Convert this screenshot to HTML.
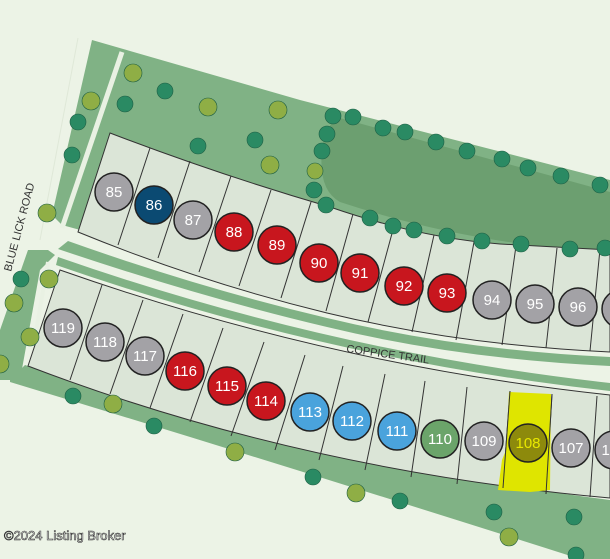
<!DOCTYPE html>
<html><head><meta charset="utf-8"><style>
html,body{margin:0;padding:0;background:#ecf3e6;}
svg{display:block}
text{font-family:"Liberation Sans",sans-serif;}
</style></head><body>
<svg width="610" height="559" viewBox="0 0 610 559" xmlns="http://www.w3.org/2000/svg">
<rect width="610" height="559" fill="#ecf3e6"/>
<path d="M78,38 L40,240" stroke="#dfe8d8" stroke-width="1" fill="none"/>
<!-- top green -->
<path d="M92,40 L300,100 L610,180 L610,330 Q330,300 62,225 L52,215 Z" fill="#80b285"/>
<path d="M122,52 L62,228" stroke="#e9f1e3" stroke-width="5" fill="none"/>
<!-- lake -->
<path d="M340,118 L610,192 L610,252 Q470,245 340,202 Q318,190 322,150 Q326,122 340,118 Z" fill="#6c9f70"/>
<!-- light road area under top green -->
<path d="M60,228 Q330,300 610,335 L610,352 L78,232 Z" fill="#ecf3e6"/>
<!-- top lots -->
<path d="M110,133 Q220,175 330,207 Q420,238 500,244 L610,250 L610,352 Q460,345 327,313 Q200,282 78,232 Z" fill="#dbe5d7" stroke="#333" stroke-width="1"/>
<g stroke="#333" stroke-width="1">
<line x1="150" y1="148" x2="118" y2="245"/><line x1="190" y1="161" x2="158" y2="258"/>
<line x1="231" y1="176" x2="199" y2="272"/><line x1="271" y1="190" x2="239" y2="286"/>
<line x1="311" y1="202" x2="281" y2="298"/><line x1="353" y1="214" x2="326" y2="311"/>
<line x1="394" y1="226" x2="368" y2="322"/><line x1="434" y1="235" x2="412" y2="332"/>
<line x1="474" y1="242" x2="456" y2="340"/><line x1="516" y1="246" x2="502" y2="345"/>
<line x1="557" y1="248" x2="546" y2="348"/><line x1="600" y1="249" x2="590" y2="351"/>
</g>
<!-- middle green strips -->
<path d="M68,241 Q200,288 327,318 Q460,350 610,357 L610,366 Q460,359 327,327 Q200,297 58,249 Z" fill="#80b285"/>
<path d="M58,257 Q330,352 610,383 L610,391 Q330,360 56,265 Z" fill="#80b285"/>
<text x="346" y="352" font-size="11" fill="#333" transform="rotate(8 346 352)">COPPICE TRAIL</text>
<!-- bottom left green strip -->
<path d="M28,250 L48,250 L55,255 L40,270 L20,380 L0,380 L0,330 Z" fill="#80b285"/>
<path d="M48,262 L28,378" stroke="#e9f1e3" stroke-width="4" fill="none"/>
<!-- bottom green band -->
<path d="M10,380 L25,365 Q300,460 610,500 L610,559 L580,559 Q300,470 10,382 Z" fill="#80b285"/>
<!-- bottom lots -->
<path d="M60,270 Q330,365 610,395 L610,498 Q300,470 28,366 Z" fill="#dbe5d7" stroke="#333" stroke-width="1"/>
<g stroke="#333" stroke-width="1">
<line x1="102" y1="285" x2="70" y2="380"/><line x1="143" y1="300" x2="110" y2="394"/>
<line x1="183" y1="314" x2="150" y2="408"/><line x1="223" y1="328" x2="190" y2="422"/>
<line x1="264" y1="342" x2="231" y2="436"/><line x1="305" y1="355" x2="275" y2="450"/>
<line x1="343" y1="366" x2="319" y2="460"/><line x1="385" y1="374" x2="365" y2="470"/>
<line x1="425" y1="381" x2="411" y2="477"/><line x1="467" y1="387" x2="457" y2="484"/>
<line x1="510" y1="391" x2="503" y2="488"/><line x1="552" y1="394" x2="546" y2="494"/>
<line x1="597" y1="396" x2="590" y2="497"/>
</g>
<path d="M509,392 L551,394 L550,490 L530,492 L498,490 L502,460 L506,450 Z" fill="#dfe500"/>
<line x1="510" y1="391" x2="503" y2="488" stroke="#333"/><line x1="552" y1="394" x2="546" y2="494" stroke="#333"/>
<!-- trees -->
<g stroke="#1d5e44" stroke-width="0.6">
<g fill="#2a8a63">
<circle cx="125" cy="104" r="8"/><circle cx="165" cy="91" r="8"/><circle cx="78" cy="122" r="8"/><circle cx="72" cy="155" r="8"/>
<circle cx="198" cy="146" r="8"/><circle cx="255" cy="140" r="8"/>
<circle cx="333" cy="116" r="8"/><circle cx="353" cy="117" r="8"/><circle cx="383" cy="128" r="8"/><circle cx="405" cy="132" r="8"/>
<circle cx="436" cy="142" r="8"/><circle cx="467" cy="151" r="8"/><circle cx="502" cy="159" r="8"/><circle cx="528" cy="168" r="8"/>
<circle cx="561" cy="176" r="8"/><circle cx="600" cy="185" r="8"/>
<circle cx="327" cy="134" r="8"/><circle cx="322" cy="151" r="8"/><circle cx="314" cy="190" r="8"/><circle cx="326" cy="205" r="8"/>
<circle cx="370" cy="218" r="8"/><circle cx="393" cy="226" r="8"/><circle cx="414" cy="230" r="8"/><circle cx="447" cy="236" r="8"/>
<circle cx="482" cy="241" r="8"/><circle cx="521" cy="244" r="8"/><circle cx="570" cy="249" r="8"/><circle cx="605" cy="248" r="8"/>
<circle cx="21" cy="279" r="8"/><circle cx="73" cy="396" r="8"/><circle cx="154" cy="426" r="8"/>
<circle cx="313" cy="477" r="8"/><circle cx="400" cy="501" r="8"/><circle cx="494" cy="512" r="8"/><circle cx="574" cy="517" r="8"/><circle cx="576" cy="555" r="8"/>
</g>
<g fill="#8fae45">
<circle cx="91" cy="101" r="9"/><circle cx="133" cy="73" r="9"/><circle cx="208" cy="107" r="9"/><circle cx="278" cy="110" r="9"/>
<circle cx="270" cy="165" r="9"/><circle cx="47" cy="213" r="9"/><circle cx="315" cy="171" r="8"/>
<circle cx="49" cy="279" r="9"/><circle cx="14" cy="303" r="9"/><circle cx="30" cy="337" r="9"/><circle cx="0" cy="364" r="9"/>
<circle cx="113" cy="404" r="9"/><circle cx="235" cy="452" r="9"/><circle cx="356" cy="493" r="9"/><circle cx="509" cy="537" r="9"/>
</g>
</g>
<!-- lot circles -->
<g stroke="#222" stroke-width="1.5">
<g fill="#a3a2a6"><circle cx="114" cy="192" r="19"/><circle cx="193" cy="220" r="19"/><circle cx="492" cy="300" r="19"/><circle cx="535" cy="304" r="19"/><circle cx="578" cy="307" r="19"/><circle cx="621" cy="309" r="19"/>
<circle cx="63" cy="328" r="19"/><circle cx="105" cy="342" r="19"/><circle cx="145" cy="356" r="19"/><circle cx="484" cy="441" r="19"/><circle cx="571" cy="448" r="19"/><circle cx="614" cy="450" r="19"/></g>
<circle cx="154" cy="205" r="19" fill="#0b4a72"/>
<g fill="#c8161e"><circle cx="234" cy="232" r="19"/><circle cx="277" cy="245" r="19"/><circle cx="319" cy="263" r="19"/><circle cx="360" cy="273" r="19"/><circle cx="404" cy="286" r="19"/><circle cx="447" cy="293" r="19"/>
<circle cx="185" cy="371" r="19"/><circle cx="227" cy="386" r="19"/><circle cx="266" cy="401" r="19"/></g>
<g fill="#4aa3dc"><circle cx="310" cy="412" r="19"/><circle cx="352" cy="421" r="19"/><circle cx="397" cy="431" r="19"/></g>
<circle cx="440" cy="439" r="19" fill="#6ba46a"/>
<circle cx="528" cy="443" r="19" fill="#8d8a0c"/>
</g>
<g fill="#fff" font-size="15" text-anchor="middle">
<text x="114" y="197">85</text><text x="154" y="210">86</text><text x="193" y="225">87</text><text x="234" y="237">88</text><text x="277" y="250">89</text>
<text x="319" y="268">90</text><text x="360" y="278">91</text><text x="404" y="291">92</text><text x="447" y="298">93</text><text x="492" y="305">94</text>
<text x="535" y="309">95</text><text x="578" y="312">96</text>
<text x="63" y="333">119</text><text x="105" y="347">118</text><text x="145" y="361">117</text><text x="185" y="376">116</text><text x="227" y="391">115</text>
<text x="266" y="406">114</text><text x="310" y="417">113</text><text x="352" y="426">112</text><text x="397" y="436">111</text><text x="440" y="444">110</text>
<text x="484" y="446">109</text><text x="528" y="448" fill="#e8e800">108</text><text x="571" y="453">107</text><text x="614" y="455">106</text>
</g>
<text x="11" y="272" font-size="11" fill="#333" transform="rotate(-75 11 272)">BLUE LICK ROAD</text>
<text x="4" y="540" font-size="13" fill="#fff" stroke="#333" stroke-width="0.6">©2024 Listing Broker</text>
</svg>
</body></html>
